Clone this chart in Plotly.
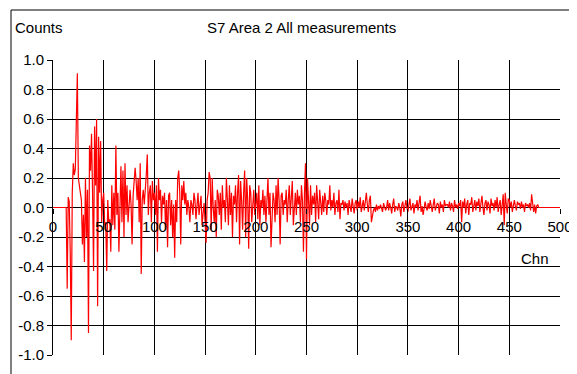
import plotly.graph_objects as go

# Channel numbers 0..500
channels = list(range(0, 501))

# Counts, one value per channel (0..500)
counts = [
    0, 0, 0, 0, 0, 0, 0, 0, 0, 0,
    0, 0, 0, 0, -0.55, 0.07, 0.04, -0.3, -0.9, 0.1,
    0.3, 0.22, 0.26, 0.6, 0.91, 0.2, 0.15, 0.12, 0.05, -0.25,
    -0.05, -0.37, 0.2, -0.2, 0.12, -0.85, 0.42, 0.25, 0.5, 0.1,
    -0.43, 0.55, 0.15, 0.6, -0.67, 0.48, 0.1, 0.45, -0.1, 0.05,
    0.1, -0.12, -0.1, -0.43, 0.05, -0.1, -0.08, -0.3, 0.15, -0.12,
    0.1, -0.15, 0.42, -0.05, 0.1, -0.3, 0.05, 0.28, -0.1, 0.25,
    -0.2, 0.3, -0.05, 0.15, -0.1, 0.05, 0.12, 0.02, -0.25, 0.08,
    0.15, 0.27, 0.18, 0.05, 0.2, -0.1, 0.3, -0.45, 0.05, 0.12,
    0.02, 0.1, 0.22, 0.36, -0.05, 0.1, 0.15, -0.1, 0.18, 0.05,
    0.1, -0.05, 0.15, -0.3, 0.2, 0.05, 0.12, -0.1, 0.08, 0.02,
    0.1, -0.15, 0.05, -0.27, 0.08, 0.1, -0.12, 0.05, -0.2, 0.02,
    -0.34, 0.05, -0.1, 0.2, 0.25, 0.1, -0.25, 0.15, 0.05, 0.18,
    0.02, 0.1, -0.05, 0.05, 0.0, -0.1, 0.05, 0.02, -0.05, 0.1,
    0.05, -0.08, 0.02, 0.1, -0.05, 0.0, 0.08, -0.12, -0.05, 0.03,
    -0.1, -0.24, 0.05, 0.1, 0.24, 0.2, -0.15, 0.2, 0.0, -0.1,
    0.05, -0.2, 0.12, 0.08, -0.05, 0.1, -0.15, 0.15, 0.0, 0.05,
    -0.1, 0.2, 0.05, -0.12, 0.15, -0.05, 0.1, -0.2, 0.08, 0.02,
    0.15, -0.1, 0.1, 0.22, -0.25, 0.18, 0.05, -0.15, 0.1, 0.25,
    -0.2, 0.2, 0.05, -0.28, 0.15, 0.1, -0.1, 0.02, 0.12, -0.05,
    0.05, 0.1, -0.08, 0.15, -0.12, 0.05, 0.0, 0.12, -0.05, 0.08,
    -0.1, 0.05, 0.2, -0.05, 0.1, -0.27, 0.0, 0.1, 0.05, -0.1,
    0.15, -0.05, 0.2, 0.05, -0.25, 0.08, 0.1, -0.05, 0.05, 0.02,
    0.12, -0.1, 0.05, 0.15, -0.05, 0.1, 0.18, -0.12, 0.05, 0.1,
    -0.05, 0.12, 0.02, 0.08, -0.1, 0.15, 0.05, -0.3, 0.1, 0.3,
    -0.35, 0.2, 0.05, -0.12, 0.15, -0.05, 0.08, 0.02, 0.1, -0.1,
    0.15, 0.05, -0.08, 0.12, 0.0, -0.05, 0.08, -0.03, 0.1, 0.05,
    -0.05, 0.05, 0.02, 0.15, -0.02, 0.05, 0.0, 0.1, -0.05, 0.03,
    0.05, -0.03, 0.12, -0.08, 0.03, 0.02, 0.05, -0.02, 0.04, 0.0,
    0.03, -0.05, 0.05, 0.02, -0.03, 0.06, 0.01, -0.04, 0.03, 0.05,
    -0.02, 0.04, 0.0, 0.07, -0.03, 0.03, 0.05, -0.02, 0.06, 0.1,
    0.02, -0.03, 0.05, 0.08, -0.1, -0.05, -0.02, 0.0, -0.03, 0.02,
    -0.02, 0.01, -0.01, 0.02, 0.0, -0.03, 0.03, 0.01, -0.02, 0.0,
    0.05, -0.02, 0.03, 0.0, -0.04, 0.02, 0.06, -0.03, 0.01, 0.0,
    -0.02, 0.03, 0.0, -0.06, 0.02, 0.04, -0.03, 0.01, 0.05, 0.0,
    -0.03, 0.02, 0.06, -0.02, 0.0, 0.03, -0.04, 0.02, 0.0, 0.05,
    -0.02, 0.03, 0.08, -0.03, 0.01, -0.05, 0.02, 0.04, 0.0, -0.02,
    0.03, -0.01, 0.05, 0.0, -0.03, 0.02, 0.06, -0.02, 0.0, 0.03,
    0.02, -0.04, 0.04, 0.0, 0.02, -0.03, 0.05, 0.01, 0.02, 0.02,
    0.0, 0.04, -0.02, 0.03, 0.01, -0.03, 0.05, 0.0, 0.02, -0.01,
    0.03, 0.01, 0.05, -0.1, 0.04, 0.0, 0.06, -0.04, 0.02, 0.05,
    -0.05, 0.03, 0.02, 0.07, -0.03, 0.0, 0.05, -0.02, 0.04, 0.01,
    0.06, -0.03, 0.02, 0.08, 0.0, -0.05, 0.03, 0.05, -0.02, 0.04,
    0.02, -0.04, 0.06, 0.01, 0.03, -0.02, 0.05, 0.0, 0.07, -0.03,
    0.02, 0.05, -0.05, 0.03, 0.09, -0.12, 0.1, 0.02, -0.04, 0.06,
    0.05, 0.0, 0.04, -0.03, 0.03, 0.05, 0.01, -0.02, 0.04, 0.02,
    0.03, -0.01, 0.04, 0.0, 0.02, -0.03, 0.03, 0.01, 0.02, 0.0,
    0.03, -0.02, 0.09, 0.01, -0.03, 0.02, -0.04, 0.01, 0.02, 0.0,
    0, 0, 0, 0, 0, 0, 0, 0, 0, 0,
    0, 0, 0, 0, 0, 0, 0, 0, 0, 0,
    0,
]

x_ticks = [0, 50, 100, 150, 200, 250, 300, 350, 400, 450, 500]
y_ticks = [-1.0, -0.8, -0.6, -0.4, -0.2, 0.0, 0.2, 0.4, 0.6, 0.8, 1.0]

title_text = "S7 Area 2 All measurements"
y_label = "Counts"
x_label = "Chn"

FONT = "Liberation Sans, Arial, sans-serif"

fig = go.Figure()
fig.add_trace(go.Scatter(
    x=channels, y=counts, mode="lines",
    line=dict(color="#ff0000", width=1.2),
    showlegend=False, hoverinfo="skip",
))

# The page body has an 8px default margin; work in screen pixels and offset.
OFF = 8
W, H = 577 - OFF, 374 - OFF
L, R, T, B = 53 - OFF, 17, 60 - OFF, 19
pw, ph = W - L - R, H - T - B

def px(x):
    return (x - OFF - L) / pw

def py(y):
    return (H - B - (y - OFF)) / ph

fig.update_layout(
    width=W, height=H,
    margin=dict(l=L, r=R, t=T, b=B, autoexpand=False),
    paper_bgcolor="white", plot_bgcolor="white",
    font=dict(family=FONT, size=15, color="black"),
    xaxis=dict(
        range=[0, 500], tickvals=x_ticks, ticktext=[str(v) for v in x_ticks],
        showgrid=True, gridcolor="black", gridwidth=1,
        zeroline=False, showline=False, automargin=False,
        ticks="outside", ticklen=5, tickcolor="black",
        anchor="free", position=0.5,
        tickfont=dict(family=FONT, size=15, color="black"),
    ),
    yaxis=dict(
        range=[-1, 1], tickvals=y_ticks, ticktext=[f"{v:.1f}" for v in y_ticks],
        showgrid=True, gridcolor="black", gridwidth=1,
        zeroline=False, showline=True, linecolor="black", linewidth=1,
        automargin=False,
        ticks="outside", ticklen=5, tickcolor="black",
        tickfont=dict(family=FONT, size=15, color="black"),
    ),
    shapes=[
        dict(type="rect", xref="paper", yref="paper",
             x0=px(11), x1=px(575), y0=py(10), y1=py(390),
             line=dict(color="black", width=1), fillcolor="rgba(0,0,0,0)", layer="below"),
    ],
    annotations=[
        dict(text=y_label, xref="paper", yref="paper", x=px(13), y=py(28),
             xanchor="left", yanchor="middle", showarrow=False,
             font=dict(family=FONT, size=15, color="black")),
        dict(text=title_text, xref="paper", yref="paper", x=px(301), y=py(28),
             xanchor="center", yanchor="middle", showarrow=False,
             font=dict(family=FONT, size=15, color="black")),
        dict(text=x_label, xref="paper", yref="paper", x=px(535), y=py(258),
             xanchor="center", yanchor="middle", showarrow=False,
             font=dict(family=FONT, size=15, color="black")),
    ],
)

fig.write_html("out.html")
